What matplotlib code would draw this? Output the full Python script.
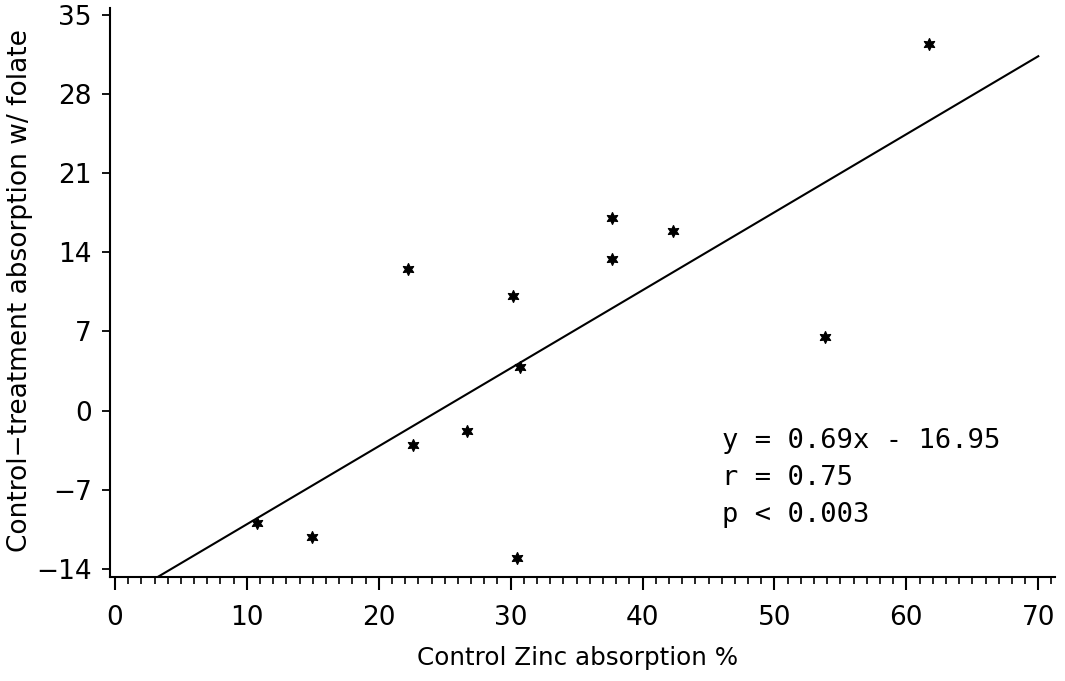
import matplotlib
matplotlib.use("Agg")
import matplotlib.pyplot as plt
import numpy as np
from matplotlib.ticker import MultipleLocator

# values
zinc_ctrl = [61.7, 37.7, 42.3, 37.7, 22.2, 30.2, 53.8, 30.7, 26.7, 22.6, 10.8, 14.9, 30.5]
diff_folate = [32.4, 17.0, 15.9, 13.4, 12.5, 10.1, 6.5, 3.9, -1.8, -3.0, -9.9, -11.2, -13.0]
slope, intercept = 0.69, -16.95
x_ticks = [0, 10, 20, 30, 40, 50, 60, 70]
y_ticks = [-14, -7, 0, 7, 14, 21, 28, 35]
stats_text = "y = 0.69x - 16.95\nr = 0.75\np < 0.003"

plt.rcParams["font.family"] = ["DejaVu Sans"]

fig = plt.figure(figsize=(10.65, 6.81), dpi=100)
ax = fig.add_axes([0.103, 0.153, 0.888, 0.835])

ax.scatter(zinc_ctrl, diff_folate, marker=(6, 1, 0), s=70, color="black", zorder=3)

xs = np.array([0, 70])
ax.plot(xs, slope * xs + intercept, color="black", lw=1.5)

ax.set_xlim(-0.4, 71.3)
ax.set_ylim(-14.7, 35.6)
ax.set_xticks(x_ticks)
ax.set_yticks(y_ticks)
ax.set_yticklabels([str(v).replace("-", "\u2212") for v in y_ticks])
ax.xaxis.set_minor_locator(MultipleLocator(1))

for s in ("top", "right"):
    ax.spines[s].set_visible(False)
for s in ("left", "bottom"):
    ax.spines[s].set_linewidth(1.5)

ax.tick_params(axis="x", which="major", length=9, width=1.5, pad=11, labelsize=19)
ax.tick_params(axis="x", which="minor", length=5, width=1.2)
ax.tick_params(axis="y", which="major", length=6, width=1.3, pad=7, labelsize=19)

ax.set_xlabel("Control Zinc absorption %", fontsize=17.7)
ax.xaxis.set_label_coords(0.495, -0.122)
ax.set_ylabel("Control\u2212treatment absorption w/ folate", fontsize=19)
ax.yaxis.set_label_coords(-0.081, 0.504)

ax.text(46.0, -1.5, stats_text, fontsize=19.5, family="DejaVu Sans Mono",
        va="top", ha="left", linespacing=1.55)

fig.savefig("out.png", dpi=100)
